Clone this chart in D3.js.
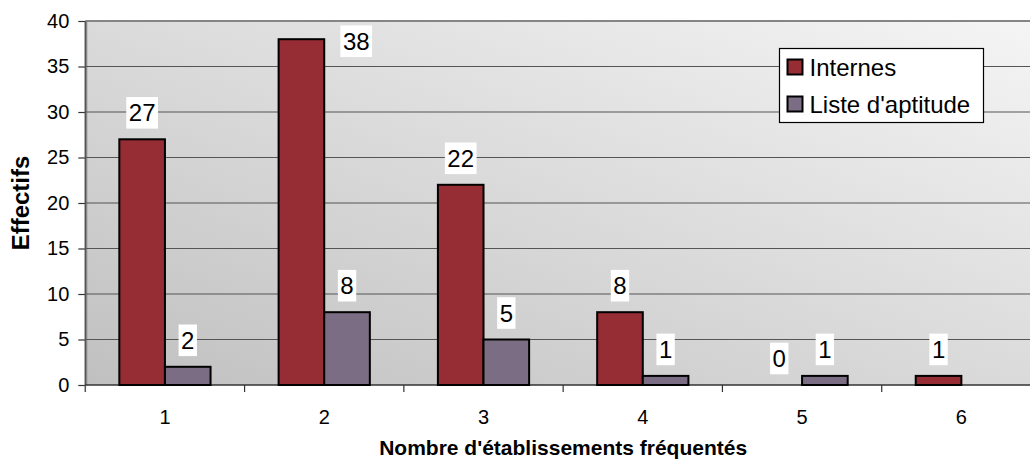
<!DOCTYPE html>
<html>
<head>
<meta charset="utf-8">
<script src="https://cdn.jsdelivr.net/npm/d3@7"></script>
<style>
  html, body { margin: 0; padding: 0; background: #fff; }
  svg { display: block; font-family: Arial, 'Liberation Sans', sans-serif; }
</style>
</head>
<body>
<svg id="chart" width="1030" height="461"></svg>
<script>
// données
const categories = ['1', '2', '3', '4', '5', '6'];
const seriesNames = ['Internes', "Liste d'aptitude"];
const internes = [27, 38, 22, 8, 0, 1];
const aptitude = [2, 8, 5, 1, 1, null];
const yTicks = [0, 5, 10, 15, 20, 25, 30, 35, 40];

const COLORS = ['#962c34', '#7b6e84'];

const W = 1030, H = 461;
const plot = { left: 85.3, top: 21, right: 1041, bottom: 385 };

const svg = d3.select('#chart');

// ── échelles ──────────────────────────────────────────────
const x0 = d3.scaleBand().domain(categories).range([plot.left, plot.right]).padding(0);
const x1 = d3.scaleBand().domain(seriesNames).range([0, x0.bandwidth()])
  .paddingInner(0).paddingOuter(0.746);
const y = d3.scaleLinear().domain([0, 40]).range([plot.bottom, plot.top]);

// ── fond dégradé de la zone de tracé ───────────────────────
const defs = svg.append('defs');
const grad = defs.append('linearGradient').attr('id', 'bg')
  .attr('x1', 0).attr('y1', 1).attr('x2', 1).attr('y2', 0);
grad.append('stop').attr('offset', 0).attr('stop-color', '#c0c0c0');
grad.append('stop').attr('offset', 1).attr('stop-color', '#f5f5f5');

svg.append('rect')
  .attr('x', plot.left).attr('y', plot.top)
  .attr('width', plot.right - plot.left).attr('height', plot.bottom - plot.top)
  .attr('fill', 'url(#bg)');

// bord gauche gris (paroi)
svg.append('line')
  .attr('x1', plot.left + 1).attr('x2', plot.left + 1)
  .attr('y1', plot.top).attr('y2', plot.bottom)
  .attr('stroke', '#8a8a8a').attr('stroke-width', 2);

// ── quadrillage ───────────────────────────────────────────
svg.append('g').selectAll('line')
  .data(yTicks.filter(d => d > 0))
  .join('line')
  .attr('x1', plot.left).attr('x2', plot.right)
  .attr('y1', d => y(d)).attr('y2', d => y(d))
  .attr('stroke', d => d === 40 ? '#858585' : '#555')
  .attr('stroke-width', d => d === 40 ? 2 : 1.2);

// ── axe Y ─────────────────────────────────────────────────
const yAxis = svg.append('g')
  .attr('transform', `translate(${plot.left},0)`)
  .call(d3.axisLeft(y).tickValues(yTicks).tickSize(7).tickPadding(9).tickSizeOuter(0));
yAxis.select('.domain').remove();
yAxis.selectAll('.tick line').attr('stroke', '#333').attr('stroke-width', 1.2);
yAxis.selectAll('.tick text')
  .attr('font-size', 20).attr('font-family', 'Arial, "Liberation Sans", sans-serif')
  .attr('fill', '#000');

svg.append('line')
  .attr('x1', plot.left).attr('x2', plot.left)
  .attr('y1', plot.top).attr('y2', plot.bottom + 7)
  .attr('stroke', '#555').attr('stroke-width', 1.5);

// ── axe X ─────────────────────────────────────────────────
svg.append('line')
  .attr('x1', plot.left).attr('x2', plot.right)
  .attr('y1', plot.bottom).attr('y2', plot.bottom)
  .attr('stroke', '#333').attr('stroke-width', 1.5);

svg.append('g').selectAll('line')
  .data(categories.slice(1))
  .join('line')
  .attr('x1', d => x0(d)).attr('x2', d => x0(d))
  .attr('y1', plot.bottom).attr('y2', plot.bottom + 7)
  .attr('stroke', '#333').attr('stroke-width', 1.2);

const xAxis = svg.append('g')
  .attr('transform', `translate(0,${plot.bottom})`)
  .call(d3.axisBottom(x0).tickSize(0).tickPadding(25));
xAxis.select('.domain').remove();
xAxis.selectAll('.tick text')
  .attr('font-size', 20).attr('font-family', 'Arial, "Liberation Sans", sans-serif')
  .attr('fill', '#000');

// ── barres ────────────────────────────────────────────────
const rows = categories.map((c, i) => ({
  cat: c,
  vals: [internes[i], aptitude[i]].map((v, j) => ({ cat: c, s: seriesNames[j], j, v }))
}));

const groups = svg.append('g').selectAll('g')
  .data(rows).join('g')
  .attr('transform', d => `translate(${x0(d.cat)},0)`);

groups.selectAll('rect')
  .data(d => d.vals.filter(v => v.v != null && v.v > 0))
  .join('rect')
  .attr('x', d => x1(d.s))
  .attr('y', d => y(d.v))
  .attr('width', x1.bandwidth())
  .attr('height', d => y(0) - y(d.v))
  .attr('fill', d => COLORS[d.j])
  .attr('stroke', '#000')
  .attr('stroke-width', 2);

// ── étiquettes de valeurs ─────────────────────────────────
const LBL_FS = 24, LBL_H = 31.6, LBL_GAP = 26.5;
const labels = svg.append('g');
rows.forEach(r => {
  r.vals.filter(v => v.v != null).forEach(v => {
    const bx = x0(v.cat) + x1(v.s);
    let cx = bx + x1.bandwidth() / 2;
    let cy = y(v.v) - LBL_GAP;
    // trop haut : l'étiquette passe à droite de la barre
    if (cy - LBL_H / 2 < plot.top) {
      cx = bx + x1.bandwidth() + 32;
      cy = y(v.v) + 2;
    }
    const g = labels.append('g').attr('transform', `translate(${cx},${cy})`);
    const t = g.append('text')
      .attr('text-anchor', 'middle')
      .attr('y', LBL_FS * 0.358)
      .attr('font-size', LBL_FS)
      .attr('fill', '#000')
      .text(v.v);
    const w = t.node().getComputedTextLength() + 5;
    g.insert('rect', 'text')
      .attr('x', -w / 2).attr('y', -LBL_H / 2)
      .attr('width', w).attr('height', LBL_H)
      .attr('fill', '#fff');
  });
});

// ── légende ───────────────────────────────────────────────
const legend = svg.append('g').attr('transform', 'translate(779.5,48.5)');
legend.append('rect')
  .attr('width', 204).attr('height', 74)
  .attr('fill', '#fff').attr('stroke', '#000').attr('stroke-width', 1.2);
seriesNames.forEach((name, i) => {
  const row = legend.append('g').attr('transform', `translate(8,${11 + i * 37})`);
  row.append('rect')
    .attr('width', 15).attr('height', 15)
    .attr('fill', COLORS[i]).attr('stroke', '#000').attr('stroke-width', 2);
  row.append('text')
    .attr('x', 22).attr('y', 16)
    .attr('font-size', 24).attr('fill', '#000')
    .text(name);
});

// ── titres des axes ───────────────────────────────────────
svg.append('text')
  .attr('transform', `translate(29,${(plot.top + plot.bottom) / 2}) rotate(-90)`)
  .attr('text-anchor', 'middle')
  .attr('font-size', 24).attr('font-weight', 'bold').attr('fill', '#000')
  .text('Effectifs');

svg.append('text')
  .attr('x', (plot.left + plot.right) / 2).attr('y', 455)
  .attr('text-anchor', 'middle')
  .attr('font-size', 21).attr('font-weight', 'bold').attr('fill', '#000')
  .text("Nombre d'établissements fréquentés");
</script>
</body>
</html>
